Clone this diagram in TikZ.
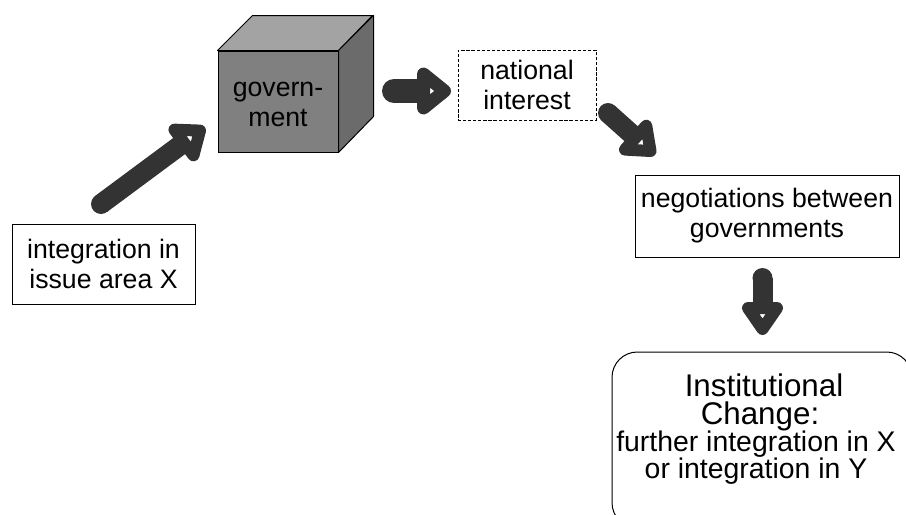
\documentclass[tikz,border=0pt]{standalone}
\usepackage{fontspec}
\setmainfont{Liberation Sans}
\usetikzlibrary{calc}
\definecolor{arrowcol}{HTML}{333333}
\definecolor{cubefront}{HTML}{808080}
\definecolor{cubetop}{HTML}{A3A3A3}
\definecolor{cubeside}{HTML}{6B6B6B}
\newcommand\fatarrow[6]{%
  \coordinate (fa-b) at ($(#2)!#3!(#1)$);
  \coordinate (fa-l) at ($(fa-b)!#4!90:(#2)$);
  \coordinate (fa-r) at ($(fa-b)!#4!-90:(#2)$);
  \draw[arrowcol, line width=#5] (#1) -- (fa-b);
  \fill[arrowcol] (#1) circle[radius=#5/2];
  \draw[arrowcol, line width=#6, line join=round] (fa-l) -- (#2) -- (fa-r) -- cycle;
}
\begin{document}
\begin{tikzpicture}[x=0.75pt,y=-0.75pt,
  lbl/.style={font=\fontsize{20}{22.5}\selectfont, align=center, inner sep=0pt},
  plainbox/.style={lbl, draw=black, line width=0.75pt, fill=white},
  dashbox/.style={plainbox, dash pattern=on 2.4pt off 1.4pt},
  bigline/.style={font=\fontsize{23.5}{26}\selectfont, anchor=base, inner sep=0pt},
  smallline/.style={font=\fontsize{21.3}{24}\selectfont, anchor=base, inner sep=0pt}]
\useasboundingbox (0,0) rectangle (906,514);
\clip (0,0) rectangle (906,514);
% cube
\node[lbl, draw=black, line width=0.75pt, fill=cubefront, minimum width=90pt, minimum height=75.75pt] (gov) at (278,101.5) {};
\filldraw[fill=cubetop, draw=black, line width=0.75pt, line join=round] (gov.north west) -- ++(35,-35) -- ++(120,0) -- (gov.north east) -- cycle;
\filldraw[fill=cubeside, draw=black, line width=0.75pt, line join=round] (gov.north east) -- ++(35,-35) -- ++(0,101) -- (gov.south east) -- cycle;
\node[lbl] (govtext) at (278,104) {govern-\\ment};
% boxes
\node[plainbox, minimum width=137.25pt, minimum height=60pt] (integ) at (103.5,264) {integration in\\issue area X};
\node[dashbox, minimum width=103.5pt, minimum height=52.5pt] (natl) at (527,85) {national\\interest};
\node[plainbox, minimum width=198pt, minimum height=61.5pt] (negot) at (767,216) {negotiations between\\governments};
\node[draw=black, line width=0.75pt, rounded corners=19pt, minimum width=225pt, minimum height=132pt, inner sep=0pt] (inst) at (762,440) {};
\node[bigline] (l1) at (764,396) {Institutional};
\node[bigline] (l2) at (760,424) {Change:};
\node[smallline] (l3) at (756,451) {further integration in X};
\node[smallline] (l4) at (756,478) {or integration in Y};
% arrows
\coordinate (a1t) at (101,204); \coordinate (a1p) at (200,130.6);
\fatarrow{a1t}{a1p}{15pt}{12pt}{15pt}{9pt}
\coordinate (a2t) at (394,91); \coordinate (a2p) at (444.5,91);
\fatarrow{a2t}{a2p}{15.75pt}{12.75pt}{18pt}{9.75pt}
\coordinate (a3t) at (608,113); \coordinate (a3p) at (650.5,151);
\fatarrow{a3t}{a3p}{15pt}{12pt}{15pt}{9pt}
\coordinate (a4t) at (762.5,278); \coordinate (a4p) at (762.5,329);
\fatarrow{a4t}{a4p}{15.75pt}{10.9pt}{15pt}{9pt}
\end{tikzpicture}
\end{document}
